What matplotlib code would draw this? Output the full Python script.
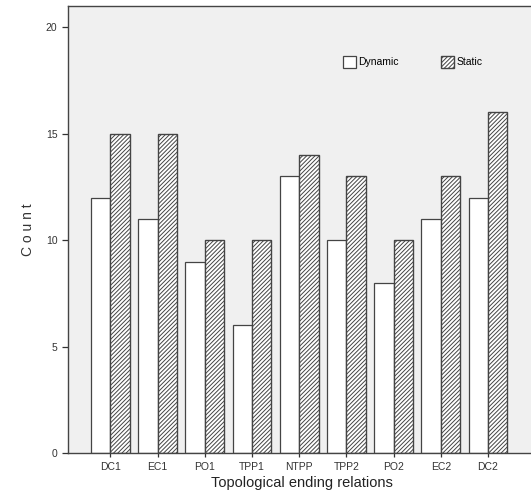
import numpy as np
import matplotlib
matplotlib.use("Agg")
import matplotlib.pyplot as plt

plt.rcParams['font.family'] = ['Liberation Sans', 'DejaVu Sans']
plt.rcParams['hatch.linewidth'] = 0.7
plt.rcParams['hatch.color'] = '#444444'

# data
relations = ['DC1', 'EC1', 'PO1', 'TPP1', 'NTPP', 'TPP2', 'PO2', 'EC2', 'DC2']
dynamic = [12, 11, 9, 6, 13, 10, 8, 11, 12]
static = [15, 15, 10, 10, 14, 13, 10, 13, 16]

fig = plt.figure(figsize=(5.31, 5.04), dpi=100)
ax = fig.add_axes([0.128, 0.101, 0.88, 0.887])
ax.set_facecolor('#f0f0f0')

x = np.arange(len(relations))
w = 0.41
ax.bar(x - w / 2, dynamic, w, color='white', edgecolor='#444444', linewidth=0.9, label='Dynamic')
ax.bar(x + w / 2, static, w, color='white', edgecolor='#444444', linewidth=1.0, hatch='////////', label='Static')

ax.set_xlim(-0.9, 9.0)
ax.set_ylim(0, 21)
ax.set_yticks([0, 5, 10, 15, 20])
ax.set_xticks(x)
ax.set_xticklabels(relations)
ax.tick_params(axis='both', labelsize=7.5, colors='#333333', length=4, width=0.9)
ax.tick_params(axis='x', length=3)

for s in ax.spines.values():
    s.set_color('#444444')
    s.set_linewidth(1.0)

ax.set_ylabel('C o u n t', fontsize=10, color='#333333', labelpad=8)
ax.set_xlabel('Topological ending relations', fontsize=10.5, color='#222222', labelpad=3)

leg = ax.legend(loc='center left', bbox_to_anchor=(0.568, 0.875), ncol=2, frameon=False,
                fontsize=7.5, handlelength=1.3, handleheight=1.3, handletextpad=0.2,
                columnspacing=4.0)

fig.savefig('out.png', dpi=100)
